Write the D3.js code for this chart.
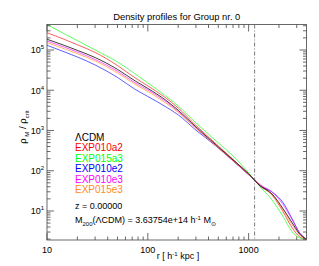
<!DOCTYPE html>
<html lang="en">
<head>
  <meta charset="UTF-8">
  <title>Density profiles</title>
  <script src="https://d3js.org/d3.v7.min.js"></script>
  <style>
    html, body { margin: 0; padding: 0; background: #fff; }
    svg text { font-family: "Liberation Sans", Arial, sans-serif; fill: #000; }
  </style>
</head>
<body>
  <div id="chart"></div>
  <script>
    // radii in h^-1 kpc
    const radii = [10, 15, 20, 30, 50, 75, 100, 150, 200, 300, 500, 700, 1000, 1300, 1700, 2200, 2700, 3200, 3700];

    const lcdm     = [1.85e5, 1.29e5, 9.8e4, 6.5e4, 3.3e4, 1.70e4, 1.11e4, 5.7e3, 3.2e3, 1.23e3, 392, 186, 84, 42, 26.7, 11.3, 5.1, 2.7, 2.0];
    const exp010a2 = [2.69e5, 1.82e5, 1.35e5, 8.7e4, 4.12e4, 2.02e4, 1.28e4, 6.5e3, 3.64e3, 1.34e3, 415, 192, 83.8, 44.7, 25.2, 9.5, 3.83, 2.29, 1.99];
    const exp015a3 = [4.3e5, 2.49e5, 1.71e5, 1.0e5, 5.04e4, 2.54e4, 1.52e4, 7.2e3, 4.07e3, 1.55e3, 492, 234, 88.7, 39.8, 19.0, 7.2, 3.05, 2.16, 1.99];
    const exp010e2 = [1.31e5, 8.9e4, 6.7e4, 4.25e4, 2.08e4, 1.05e4, 7.0e3, 3.9e3, 2.45e3, 1.02e3, 370, 176, 80, 42.2, 29.9, 16.0, 6.4, 2.88, 2.04];
    const exp010e3 = [1.67e5, 1.17e5, 8.9e4, 5.8e4, 2.96e4, 1.52e4, 1.02e4, 5.27e3, 2.98e3, 1.16e3, 370, 176, 79, 44.7, 29.9, 14.3, 6.05, 2.88, 2.04];
    const exp015e3 = [1.52e5, 1.06e5, 8.1e4, 5.33e4, 2.69e4, 1.39e4, 9.3e3, 4.84e3, 2.81e3, 1.13e3, 370, 176, 81.5, 42.2, 25.2, 10.7, 4.55, 2.56, 1.99];

    const modelNames = ["\u039BCDM", "EXP010a2", "EXP015a3", "EXP010e2", "EXP010e3", "EXP015e3"];
    const modelColors = ["#000000", "#ff0000", "#00ff00", "#0000ff", "#ff00ff", "#ff8c1a"];
    const modelValues = [lcdm, exp010a2, exp015a3, exp010e2, exp010e3, exp015e3];

    const r200 = 1146;
    const xTickValues = [10, 100, 1000];
    const yTickValues = [10, 100, 1000, 1e4, 1e5];

    const width = 319, height = 266;
    const margin = {top: 24.5, right: 12.5, bottom: 26, left: 47};

    const svg = d3.select("#chart").append("svg")
      .attr("width", width)
      .attr("height", height);

    const x = d3.scaleLog().domain([10, 3750]).range([margin.left, width - margin.right]);
    const y = d3.scaleLog().domain([1.9, 4.3e5]).range([height - margin.bottom, margin.top]);

    const x0 = x.range()[0], x1 = x.range()[1];
    const y0 = y.range()[0], y1 = y.range()[1];

    // title
    svg.append("text")
      .attr("x", (x0 + x1) / 2)
      .attr("y", 20)
      .attr("text-anchor", "middle")
      .style("font-size", "9.4px")
      .text("Density profiles for Group nr. 0");

    svg.append("clipPath").attr("id", "clip")
      .append("rect").attr("x", x0).attr("y", y1).attr("width", x1 - x0).attr("height", y0 - y1);

    const plot = svg.append("g").attr("clip-path", "url(#clip)");

    const line = d3.line()
      .x((d, i) => x(radii[i]))
      .y(d => y(d))
      .curve(d3.curveMonotoneX);

    // coloured models first, LCDM on top
    const order = [1, 2, 3, 4, 5, 0];
    order.forEach(k => {
      plot.append("path")
        .attr("d", line(modelValues[k]))
        .attr("fill", "none")
        .attr("stroke", modelColors[k])
        .attr("stroke-opacity", k === 0 ? 0.85 : 0.7)
        .attr("stroke-width", 0.9);
    });

    // r200 marker
    plot.append("line")
      .attr("x1", x(r200)).attr("x2", x(r200))
      .attr("y1", y1).attr("y2", y0)
      .attr("stroke", "#555")
      .attr("stroke-width", 0.8)
      .attr("stroke-dasharray", "4,2,1,2");

    // axes frame with inward ticks
    const axisG = svg.append("g").attr("stroke", "#444").attr("stroke-width", 0.8);
    axisG.append("rect")
      .attr("x", x0).attr("y", y1)
      .attr("width", x1 - x0).attr("height", y0 - y1)
      .attr("fill", "none");

    const minorX = [];
    for (let d = 10; d < 10000; d *= 10) {
      for (let m = 1; m < 10; m++) {
        const v = d * m;
        if (v >= 10 && v <= 3750) minorX.push(v);
      }
    }
    minorX.forEach(v => {
      const major = xTickValues.includes(v);
      const len = major ? 7 : 3.5;
      axisG.append("line").attr("x1", x(v)).attr("x2", x(v)).attr("y1", y0).attr("y2", y0 - len);
      axisG.append("line").attr("x1", x(v)).attr("x2", x(v)).attr("y1", y1).attr("y2", y1 + len);
    });

    const minorY = [];
    for (let d = 1; d < 1e6; d *= 10) {
      for (let m = 1; m < 10; m++) {
        const v = d * m;
        if (v >= 1.9 && v <= 4.3e5) minorY.push(v);
      }
    }
    minorY.forEach(v => {
      const major = yTickValues.includes(v);
      const len = major ? 7 : 3.5;
      axisG.append("line").attr("x1", x0).attr("x2", x0 + len).attr("y1", y(v)).attr("y2", y(v));
      axisG.append("line").attr("x1", x1).attr("x2", x1 - len).attr("y1", y(v)).attr("y2", y(v));
    });

    // x tick labels
    xTickValues.forEach(v => {
      svg.append("text")
        .attr("x", x(v))
        .attr("y", y0 + 13)
        .attr("text-anchor", "middle")
        .style("font-size", "9px")
        .text(v);
    });

    // y tick labels as 10^n
    yTickValues.forEach(v => {
      const t = svg.append("text")
        .attr("x", x0 - 3)
        .attr("y", y(v) + 3.5)
        .attr("text-anchor", "end")
        .style("font-size", "9px");
      t.append("tspan").text("10");
      t.append("tspan").attr("dy", -4).style("font-size", "6px").text(Math.round(Math.log10(v)));
    });

    // axis titles
    const xt = svg.append("text")
      .attr("x", 178)
      .attr("y", 259)
      .attr("text-anchor", "middle")
      .style("font-size", "9px");
    xt.append("tspan").text("r [ h");
    xt.append("tspan").attr("dy", -3.5).style("font-size", "6px").text("-1");
    xt.append("tspan").attr("dy", 3.5).text(" kpc ]");

    const yt = svg.append("text")
      .attr("transform", "translate(26,127) rotate(-90)")
      .attr("text-anchor", "middle")
      .style("font-size", "9.5px");
    yt.append("tspan").text("\u03C1");
    yt.append("tspan").attr("dy", 2.5).style("font-size", "6px").text(" M");
    yt.append("tspan").attr("dy", -2.5).text(" / \u03C1");
    yt.append("tspan").attr("dy", 2.5).style("font-size", "6px").text("crit");

    // legend
    modelNames.forEach((name, i) => {
      svg.append("text")
        .attr("x", 75)
        .attr("y", 141 + i * 10.4)
        .style("font-size", "10px")
        .style("fill", modelColors[i])
        .text(name);
    });

    svg.append("text")
      .attr("x", 75).attr("y", 208.5)
      .style("font-size", "9px")
      .text("z =  0.00000");

    const mt = svg.append("text")
      .attr("x", 75).attr("y", 223)
      .style("font-size", "9px");
    mt.append("tspan").text("M");
    mt.append("tspan").attr("dy", 2.5).style("font-size", "6px").text("200");
    mt.append("tspan").attr("dy", -2.5).text("(\u039BCDM) = 3.63754e+14 h");
    mt.append("tspan").attr("dy", -3.5).style("font-size", "6px").text("-1");
    mt.append("tspan").attr("dy", 3.5).text(" M");
    mt.append("tspan").attr("dy", 2.5).style("font-size", "6px").text("\u2299");
  </script>
</body>
</html>
